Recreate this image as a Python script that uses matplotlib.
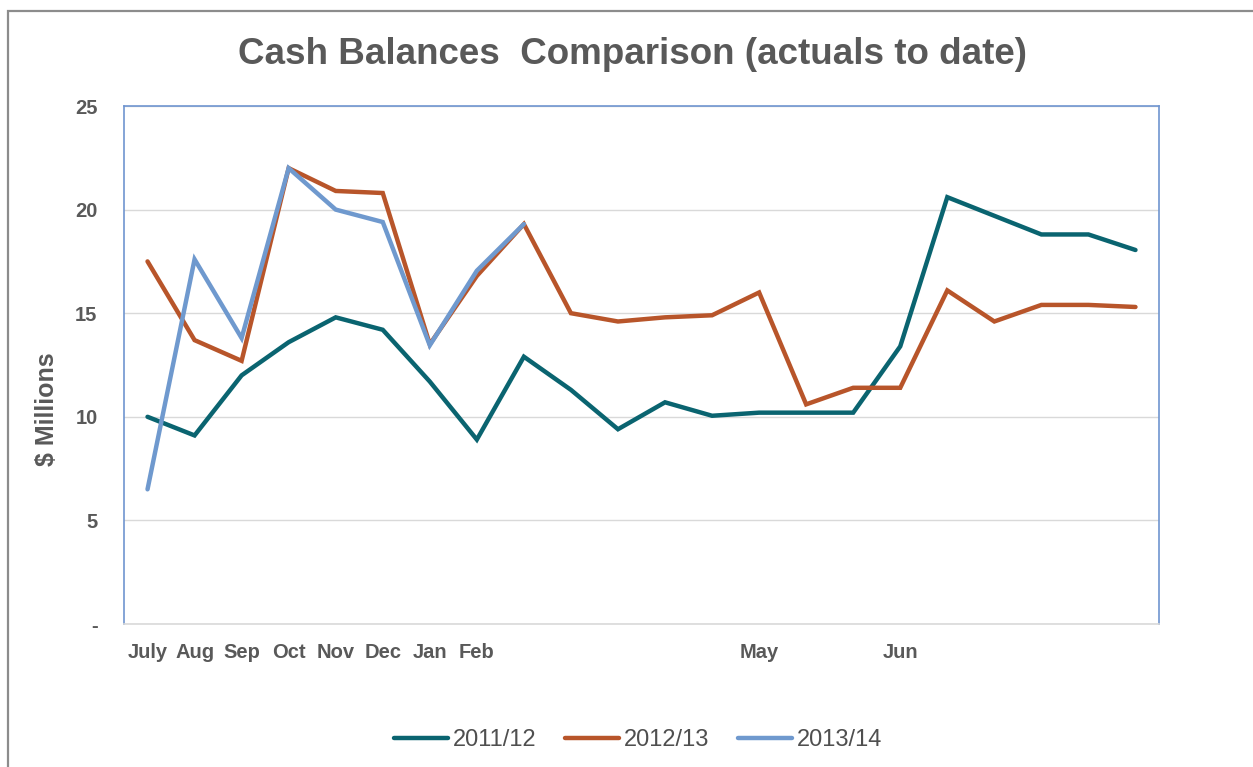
import numpy as np
import matplotlib
matplotlib.use("Agg")
from matplotlib import pyplot as plt
from matplotlib.patches import Rectangle

plt.rcParams['font.family'] = ['Liberation Sans', 'DejaVu Sans']

# month labels as shown on the category axis (blank ones are hidden in the source)
months = ["July", "Aug", "Sep", "Oct", "Nov", "Dec", "Jan", "Feb",
          "", "", "", "", "", "May", "", "", "Jun", "", "", "", "", ""]

cash_2011_12 = [10.0, 9.1, 12.0, 13.6, 14.8, 14.2, 11.7, 8.9, 12.9, 11.3, 9.4,
                10.7, 10.05, 10.2, 10.2, 10.2, 13.4, 20.6, 19.7, 18.8, 18.8, 18.05]
cash_2012_13 = [17.5, 13.7, 12.7, 22.0, 20.9, 20.8, 13.5, 16.8, 19.3, 15.0, 14.6,
                14.8, 14.9, 16.0, 10.6, 11.4, 11.4, 16.1, 14.6, 15.4, 15.4, 15.3]
cash_2013_14 = [6.5, 17.6, 13.8, 22.0, 20.0, 19.4, 13.45, 17.05, 19.3]

series_names = ["2011/12", "2012/13", "2013/14"]
series_colors = ["#0A6470", "#B8552A", "#6F99CE"]

text_grey = "#595959"

fig = plt.figure(figsize=(12.53, 7.67), dpi=100)
ax = fig.add_axes([124 / 1253, 1 - 624 / 767, (1159 - 124) / 1253, (624 - 106) / 767])

x = np.arange(len(months))
for vals, name, col in zip([cash_2011_12, cash_2012_13, cash_2013_14], series_names, series_colors):
    ax.plot(x[:len(vals)], vals, color=col, lw=3.2, label=name,
            solid_joinstyle='miter', solid_capstyle='round')

ax.set_xlim(-0.5, len(months) - 0.5)
ax.set_ylim(0, 25)
ax.set_yticks([0, 5, 10, 15, 20, 25])
ax.set_yticklabels(["-", "5", "10", "15", "20", "25"])
ax.set_xticks(x)
ax.set_xticklabels(months)
ax.tick_params(axis='both', length=0, labelsize=14.5, labelcolor=text_grey)
ax.tick_params(axis='x', pad=14)
ax.tick_params(axis='y', pad=19)
for lab in ax.get_xticklabels() + ax.get_yticklabels():
    lab.set_fontweight('bold')

ax.grid(axis='y', color='#D9D9D9', lw=1)
ax.set_axisbelow(True)
for side in ['left', 'top', 'right']:
    ax.spines[side].set_color('#6F95D0')
    ax.spines[side].set_linewidth(1.2)
ax.spines['bottom'].set_color('#D9D9D9')
ax.spines['bottom'].set_linewidth(1.2)

fig.text(47 / 1253, 1 - 409 / 767, "$ Millions", rotation=90, ha='center', va='center',
         fontsize=18, fontweight='bold', color=text_grey)
fig.text(632 / 1253, 1 - 54 / 767, "Cash Balances  Comparison (actuals to date)",
         ha='center', va='center', fontsize=26.5, fontweight='bold', color=text_grey)

fig.legend(loc='center', bbox_to_anchor=(638 / 1253, 1 - 740 / 767), ncol=3, frameon=False,
           fontsize=17, labelcolor='#4F4F4F', handlelength=2.3, handletextpad=0.2,
           columnspacing=1.2)

# outer chart border (top and left edges visible in the crop)
fig.add_artist(Rectangle((8 / 1253, -0.2), 1.5, 1.2 - 11 / 767, transform=fig.transFigure,
                         fill=False, edgecolor='#8C8C8C', lw=1.6))

fig.savefig("out.png", dpi=100)
